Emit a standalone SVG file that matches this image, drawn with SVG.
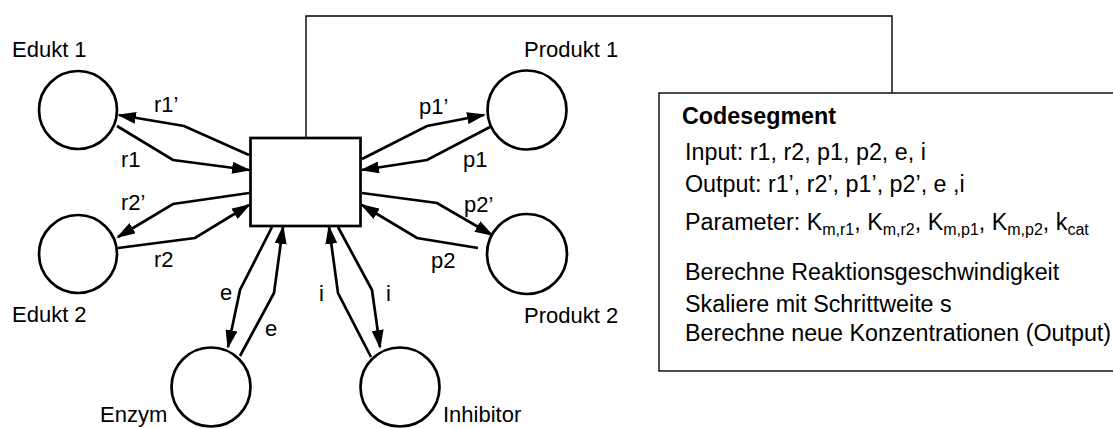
<svg xmlns="http://www.w3.org/2000/svg" width="1113" height="428" viewBox="0 0 1113 428">
<style>
text{font-family:"Liberation Sans",Arial,sans-serif;font-size:22px;fill:#000}
.box text{font-size:23.3px}
.b{font-weight:bold}
.box .s{font-size:16px}
.place{fill:#fff;stroke:#000;stroke-width:2.7}
.arc{fill:none;stroke:#000;stroke-width:2.7;stroke-linejoin:miter;marker-end:url(#ah)}
.thin{fill:none;stroke:#000;stroke-width:1.4}
</style>
<defs>
<marker id="ah" markerUnits="userSpaceOnUse" markerWidth="19" markerHeight="12" viewBox="0 0 19 12" refX="17" refY="6" orient="auto">
<path d="M0,0 L19,6 L0,12 z" fill="#000"/>
</marker>
</defs>
<g id="link">
<path class="thin" d="M306,137 V16 H892 V93"/>
</g>
<g id="codesegment" class="box">
<rect class="thin" x="659" y="93" width="470" height="278" fill="#fff"/>
<text class="b" x="682" y="124">Codesegment</text>
<text x="685" y="160">Input: r1, r2, p1, p2, e, i</text>
<text x="685" y="192">Output: r1’, r2’, p1’, p2’, e ,i</text>
<text x="685" y="230">Parameter: K<tspan class="s" dy="5">m,r1</tspan><tspan dy="-5">, K</tspan><tspan class="s" dy="5">m,r2</tspan><tspan dy="-5">, K</tspan><tspan class="s" dy="5">m,p1</tspan><tspan dy="-5">, K</tspan><tspan class="s" dy="5">m,p2</tspan><tspan dy="-5">, k</tspan><tspan class="s" dy="5">cat</tspan></text>
<text x="685" y="280">Berechne Reaktionsgeschwindigkeit</text>
<text x="685" y="312">Skaliere mit Schrittweite s</text>
<text x="685" y="341">Berechne neue Konzentrationen (Output)</text>
</g>
<g id="connectors">
<path class="arc" d="M249,155 L184,126 L119,115"/>
<path class="arc" d="M117,126 L173,160 L249,170"/>
<path class="arc" d="M249,193 L173,204 L118,237"/>
<path class="arc" d="M118,248 L195,238 L249,205"/>
<path class="arc" d="M362,159 L427,126 L484,115"/>
<path class="arc" d="M490,127 L427,160 L362,170"/>
<path class="arc" d="M362,193 L437,203 L492,235"/>
<path class="arc" d="M478,248 L417,238 L362,205"/>
<path class="arc" d="M272,227 L240,290 L228,347"/>
<path class="arc" d="M240,356 L274,293 L283,227"/>
<path class="arc" d="M371,357 L338,293 L329,227"/>
<path class="arc" d="M338,227 L372,290 L380,347"/>
<text x="154" y="112">r1’</text>
<text x="121" y="167">r1</text>
<text x="121" y="210">r2’</text>
<text x="154" y="267">r2</text>
<text x="419" y="114">p1’</text>
<text x="463" y="167">p1</text>
<text x="464" y="212">p2’</text>
<text x="431" y="268">p2</text>
<text x="220" y="300">e</text>
<text x="265" y="336">e</text>
<text x="319" y="301">i</text>
<text x="386" y="301">i</text>
</g>
<g id="transition">
<rect x="250.5" y="138" width="110" height="88" fill="#fff" stroke="#000" stroke-width="2.7"/>
</g>
<g id="edukt1">
<circle class="place" cx="78" cy="110" r="39"/>
<text x="12" y="57">Edukt 1</text>
</g>
<g id="edukt2">
<circle class="place" cx="78" cy="254" r="39"/>
<text x="12" y="322">Edukt 2</text>
</g>
<g id="produkt1">
<circle class="place" cx="527" cy="110" r="39.5"/>
<text x="524" y="57">Produkt 1</text>
</g>
<g id="produkt2">
<circle class="place" cx="527" cy="254" r="40"/>
<text x="524" y="323">Produkt 2</text>
</g>
<g id="enzym">
<circle class="place" cx="211" cy="387" r="39.5"/>
<text x="100" y="422">Enzym</text>
</g>
<g id="inhibitor">
<circle class="place" cx="400" cy="387" r="39.5"/>
<text x="443" y="422">Inhibitor</text>
</g>
</svg>
